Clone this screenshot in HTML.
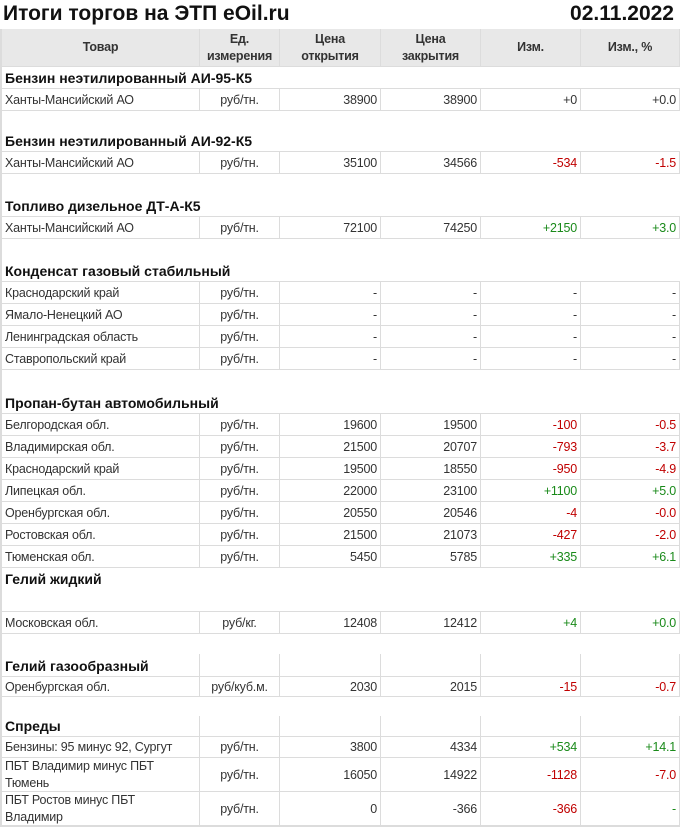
<!DOCTYPE html>
<html><head><meta charset="utf-8"><style>
body{margin:0;width:680px;height:828px;background:#fff;position:relative;overflow:hidden;font-family:"Liberation Sans",Arial,sans-serif;}
.t{position:absolute;top:2px;font-weight:bold;font-size:21px;color:#111;}
.r{position:absolute;left:0;width:678px;border-bottom:1px solid #dcdcdc;border-left:2px solid #dcdcdc;}
.r span{position:absolute;top:0;height:100%;box-sizing:border-box;font-size:12.5px;color:#333;display:flex;align-items:center;padding:0 3px;letter-spacing:-0.2px;}
.v span{border-right:1px solid #dcdcdc;}
.c1{left:0;width:198px;}.c2{left:198px;width:80px;justify-content:center;}
.c3{left:278px;width:101px;justify-content:flex-end;}.c4{left:379px;width:100px;justify-content:flex-end;}
.c5{left:479px;width:100px;justify-content:flex-end;}.c6{left:579px;width:99px;justify-content:flex-end;}
.h{background:#e8e8e8;}
.h span{font-weight:bold;color:#333;font-size:12.5px;text-align:center;justify-content:center;line-height:17px;}
.s span.c1{font-weight:bold;font-size:14px;color:#111;width:400px;align-items:flex-end;padding-bottom:2px;letter-spacing:0;}
.g{color:#1a8a1a!important}.d{color:#c00000!important}
.two{line-height:17px;}
</style></head><body>
<div class="t" style="left:3px">Итоги торгов на ЭТП eOil.ru</div>
<div class="t" style="right:6px">02.11.2022</div>
<div class="r h v" style="top:29px;height:37px"><span class="c1">Товар</span><span class="c2">Ед.<br>измерения</span><span class="c3">Цена<br>открытия</span><span class="c4">Цена<br>закрытия</span><span class="c5">Изм.</span><span class="c6">Изм., %</span></div>

<div class="r s" style="top:67px;height:21px"><span class="c1">Бензин неэтилированный АИ-95-К5</span></div>
<div class="r v" style="top:89px;height:21px"><span class="c1">Ханты-Мансийский АО</span><span class="c2">руб/тн.</span><span class="c3">38900</span><span class="c4">38900</span><span class="c5">+0</span><span class="c6">+0.0</span></div>
<div class="r s" style="top:111px;height:40px"><span class="c1">Бензин неэтилированный АИ-92-К5</span></div>
<div class="r v" style="top:152px;height:21px"><span class="c1">Ханты-Мансийский АО</span><span class="c2">руб/тн.</span><span class="c3">35100</span><span class="c4">34566</span><span class="c5 d">-534</span><span class="c6 d">-1.5</span></div>
<div class="r s" style="top:174px;height:42px"><span class="c1">Топливо дизельное ДТ-А-К5</span></div>
<div class="r v" style="top:217px;height:21px"><span class="c1">Ханты-Мансийский АО</span><span class="c2">руб/тн.</span><span class="c3">72100</span><span class="c4">74250</span><span class="c5 g">+2150</span><span class="c6 g">+3.0</span></div>
<div class="r s" style="top:239px;height:42px"><span class="c1">Конденсат газовый стабильный</span></div>
<div class="r v" style="top:282px;height:21px"><span class="c1">Краснодарский край</span><span class="c2">руб/тн.</span><span class="c3">-</span><span class="c4">-</span><span class="c5">-</span><span class="c6">-</span></div>
<div class="r v" style="top:304px;height:21px"><span class="c1">Ямало-Ненецкий АО</span><span class="c2">руб/тн.</span><span class="c3">-</span><span class="c4">-</span><span class="c5">-</span><span class="c6">-</span></div>
<div class="r v" style="top:326px;height:21px"><span class="c1">Ленинградская область</span><span class="c2">руб/тн.</span><span class="c3">-</span><span class="c4">-</span><span class="c5">-</span><span class="c6">-</span></div>
<div class="r v" style="top:348px;height:21px"><span class="c1">Ставропольский край</span><span class="c2">руб/тн.</span><span class="c3">-</span><span class="c4">-</span><span class="c5">-</span><span class="c6">-</span></div>
<div class="r s" style="top:370px;height:43px"><span class="c1">Пропан-бутан автомобильный</span></div>
<div class="r v" style="top:414px;height:21px"><span class="c1">Белгородская обл.</span><span class="c2">руб/тн.</span><span class="c3">19600</span><span class="c4">19500</span><span class="c5 d">-100</span><span class="c6 d">-0.5</span></div>
<div class="r v" style="top:436px;height:21px"><span class="c1">Владимирская обл.</span><span class="c2">руб/тн.</span><span class="c3">21500</span><span class="c4">20707</span><span class="c5 d">-793</span><span class="c6 d">-3.7</span></div>
<div class="r v" style="top:458px;height:21px"><span class="c1">Краснодарский край</span><span class="c2">руб/тн.</span><span class="c3">19500</span><span class="c4">18550</span><span class="c5 d">-950</span><span class="c6 d">-4.9</span></div>
<div class="r v" style="top:480px;height:21px"><span class="c1">Липецкая обл.</span><span class="c2">руб/тн.</span><span class="c3">22000</span><span class="c4">23100</span><span class="c5 g">+1100</span><span class="c6 g">+5.0</span></div>
<div class="r v" style="top:502px;height:21px"><span class="c1">Оренбургская обл.</span><span class="c2">руб/тн.</span><span class="c3">20550</span><span class="c4">20546</span><span class="c5 d">-4</span><span class="c6 d">-0.0</span></div>
<div class="r v" style="top:524px;height:21px"><span class="c1">Ростовская обл.</span><span class="c2">руб/тн.</span><span class="c3">21500</span><span class="c4">21073</span><span class="c5 d">-427</span><span class="c6 d">-2.0</span></div>
<div class="r v" style="top:546px;height:21px"><span class="c1">Тюменская обл.</span><span class="c2">руб/тн.</span><span class="c3">5450</span><span class="c4">5785</span><span class="c5 g">+335</span><span class="c6 g">+6.1</span></div>
<div class="r s" style="top:568px;height:43px"><span class="c1" style="align-items:flex-start;padding-top:3px">Гелий жидкий</span></div>
<div class="r v" style="top:611px;height:21px;border-top:1px solid #dcdcdc"><span class="c1">Московская обл.</span><span class="c2">руб/кг.</span><span class="c3">12408</span><span class="c4">12412</span><span class="c5 g">+4</span><span class="c6 g">+0.0</span></div>
<div class="r" style="top:634px;height:20px;border-bottom:none"></div>
<div class="r s v" style="top:654px;height:22px"><span class="c1" style="width:198px">Гелий газообразный</span><span class="c2"></span><span class="c3"></span><span class="c4"></span><span class="c5"></span><span class="c6"></span></div>
<div class="r v" style="top:677px;height:19px"><span class="c1">Оренбургская обл.</span><span class="c2">руб/куб.м.</span><span class="c3">2030</span><span class="c4">2015</span><span class="c5 d">-15</span><span class="c6 d">-0.7</span></div>
<div class="r" style="top:697px;height:19px;border-bottom:none"></div>
<div class="r s v" style="top:716px;height:20px"><span class="c1" style="width:198px">Спреды</span><span class="c2"></span><span class="c3"></span><span class="c4"></span><span class="c5"></span><span class="c6"></span></div>
<div class="r v" style="top:737px;height:20px"><span class="c1">Бензины: 95 минус 92, Сургут</span><span class="c2">руб/тн.</span><span class="c3">3800</span><span class="c4">4334</span><span class="c5 g">+534</span><span class="c6 g">+14.1</span></div>
<div class="r v" style="top:758px;height:33px"><span class="c1 two">ПБТ Владимир минус ПБТ<br>Тюмень</span><span class="c2">руб/тн.</span><span class="c3">16050</span><span class="c4">14922</span><span class="c5 d">-1128</span><span class="c6 d">-7.0</span></div>
<div class="r v" style="top:792px;height:33px;border-bottom:2px solid #dcdcdc"><span class="c1 two">ПБТ Ростов минус ПБТ<br>Владимир</span><span class="c2">руб/тн.</span><span class="c3">0</span><span class="c4">-366</span><span class="c5 d">-366</span><span class="c6 g">-</span></div>
</body></html>
